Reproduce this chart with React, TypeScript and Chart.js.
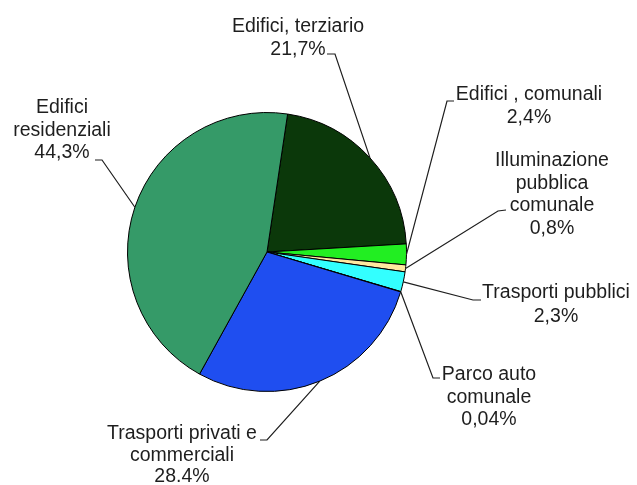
import React, { useEffect, useRef } from "react";
import { Chart, registerables } from "chart.js";

Chart.register(...registerables);

const categories = [
  "Edifici, terziario",
  "Edifici , comunali",
  "Illuminazione pubblica comunale",
  "Trasporti pubblici",
  "Parco auto comunale",
  "Trasporti privati e commerciali",
  "Edifici residenziali",
];
const values = [21.7, 2.4, 0.8, 2.3, 0.04, 28.4, 44.3];
const valueLabels = ["21,7%", "2,4%", "0,8%", "2,3%", "0,04%", "28.4%", "44,3%"];
const labelLines = [
  ["Edifici, terziario"],
  ["Edifici , comunali"],
  ["Illuminazione", "pubblica", "comunale"],
  ["Trasporti pubblici"],
  ["Parco auto", "comunale"],
  ["Trasporti privati e", "commerciali"],
  ["Edifici", "residenziali"],
];
const colors = ["#0b380a", "#22ee22", "#ffe9a0", "#33ffff", "#cc6633", "#1f4ef0", "#359a68"];

// label layout: centre x, first baseline, line height, tick start, tick end
const layouts = [
  { cx: 298, y: 32, lh: 23, tick: [[327, 54], [335, 54]] },
  { cx: 529, y: 100, lh: 23, tick: [[454, 101], [447, 101]] },
  { cx: 552, y: 166, lh: 22.5, tick: [[506, 210], [498, 211]] },
  { cx: 556, y: 298, lh: 24, tick: [[481, 300], [473, 300]] },
  { cx: 489, y: 380, lh: 22.5, tick: [[440, 378], [433, 378]] },
  { cx: 182, y: 439, lh: 21.5, tick: [[260, 440], [267, 440]] },
  { cx: 62, y: 113, lh: 22.5, tick: [[95, 160], [102, 160]] },
];

const labelPlugin = {
  id: "labelPlugin",
  afterDraw(chart: any) {
    const ctx = chart.ctx;
    const meta = chart.getDatasetMeta(0);
    ctx.save();
    ctx.fillStyle = "#1e1e1e";
    ctx.strokeStyle = "#1e1e1e";
    ctx.lineWidth = 1.2;
    ctx.font = '19.5px "Liberation Sans", Arial, sans-serif';
    ctx.textAlign = "center";
    ctx.textBaseline = "alphabetic";
    meta.data.forEach((arc: any, i: number) => {
      const L = layouts[i];
      const lines = [...labelLines[i], valueLabels[i]];
      lines.forEach((t, k) => ctx.fillText(t, L.cx, L.y + k * L.lh));
      const mid = (arc.startAngle + arc.endAngle) / 2;
      const px = arc.x + arc.outerRadius * Math.cos(mid);
      const py = arc.y + arc.outerRadius * Math.sin(mid);
      ctx.beginPath();
      ctx.moveTo(L.tick[0][0], L.tick[0][1]);
      ctx.lineTo(L.tick[1][0], L.tick[1][1]);
      ctx.lineTo(px, py);
      ctx.stroke();
    });
    ctx.restore();
  },
};

export default function App() {
  const ref = useRef<HTMLCanvasElement>(null);
  useEffect(() => {
    if (!ref.current) return;
    const chart = new Chart(ref.current, {
      type: "pie",
      data: {
        labels: categories,
        datasets: [
          {
            data: values,
            backgroundColor: colors,
            borderColor: "#000000",
            borderWidth: 1,
          },
        ],
      },
      options: {
        responsive: false,
        animation: false,
        rotation: 8.5,
        layout: { padding: { left: 127, right: 230, top: 112, bottom: 93 } },
        plugins: {
          legend: { display: false },
          title: { display: false },
          tooltip: { enabled: false },
        },
      },
      plugins: [labelPlugin],
    });
    return () => chart.destroy();
  }, []);
  return (
    <div style={{ position: "absolute", left: 0, top: 0, width: 637, height: 485, background: "#fff" }}>
      <canvas ref={ref} width={637} height={485} />
    </div>
  );
}
